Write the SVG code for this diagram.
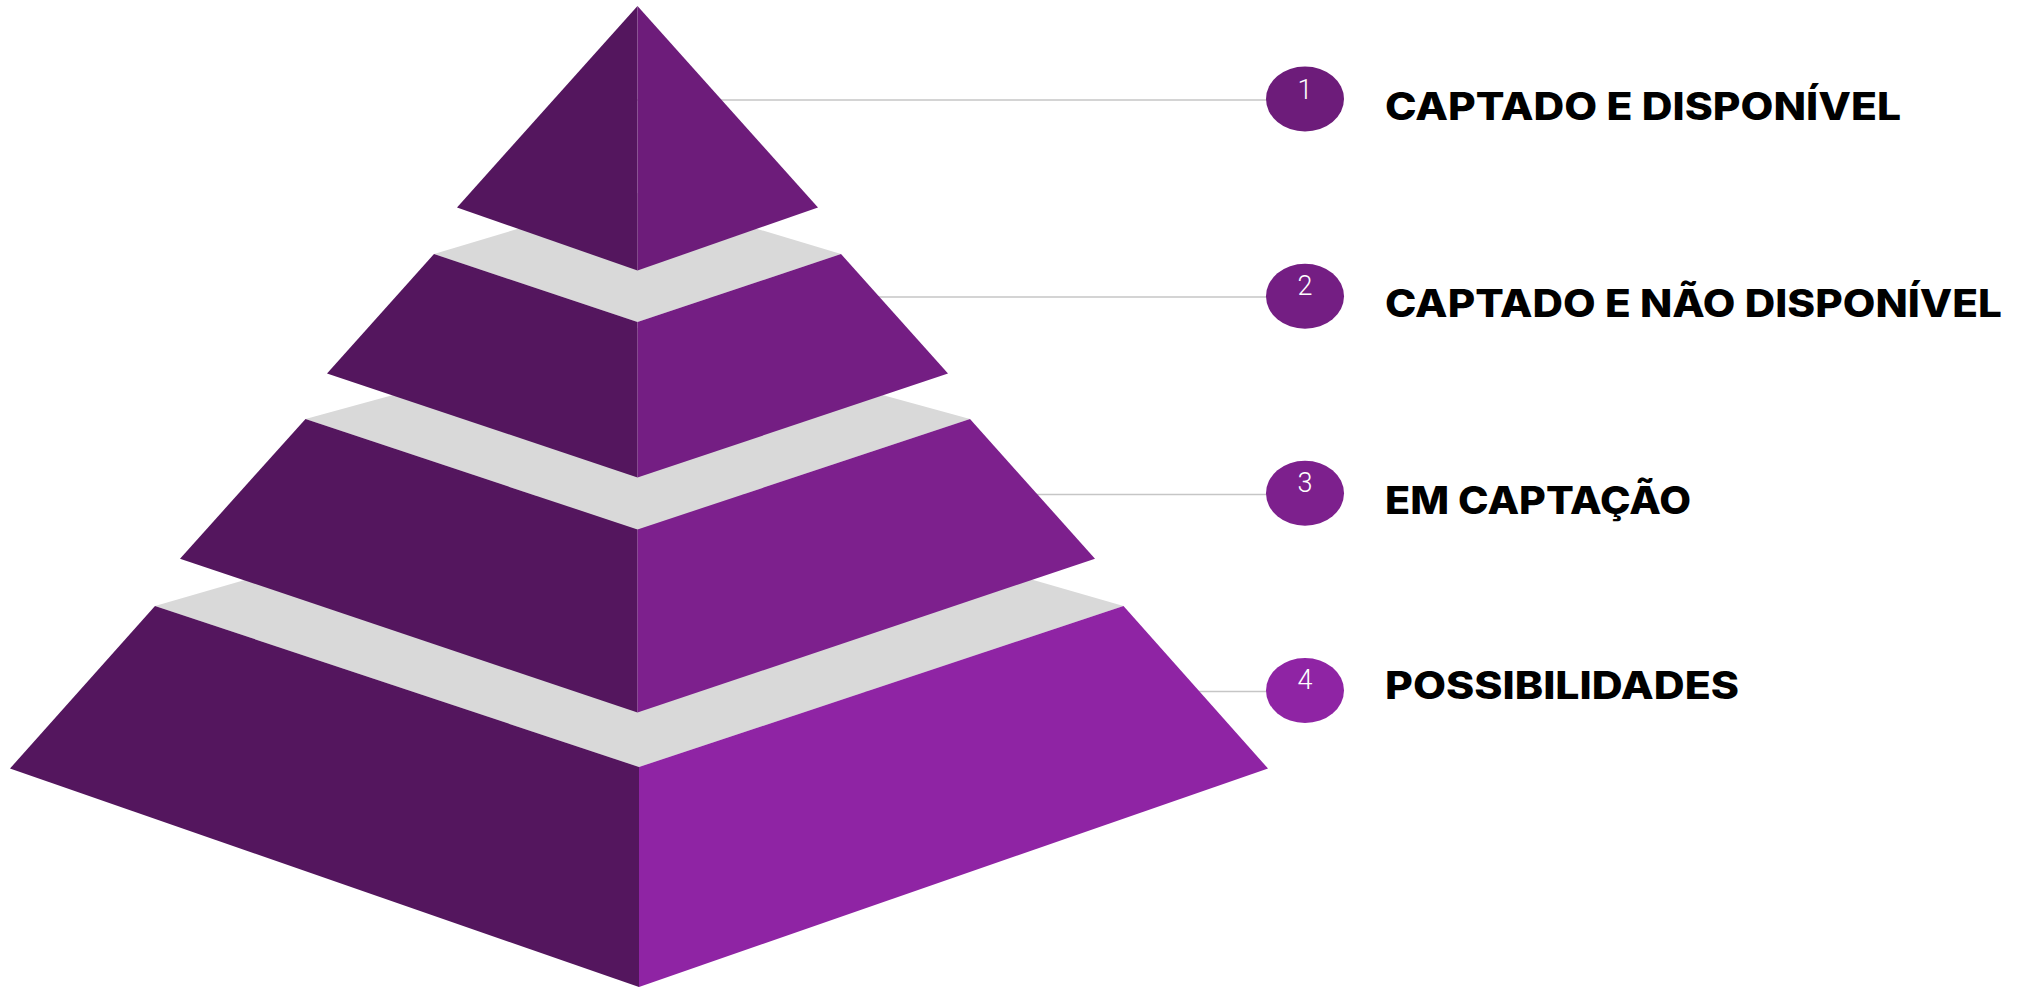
<svg xmlns="http://www.w3.org/2000/svg" width="2018" height="987" viewBox="0 0 2018 987">
<style>
.dark{fill:#54165E}
.gray{fill:#D9D9D9}
.conn{stroke:#C6C6C6;stroke-width:1.6;fill:none}
.num{font-family:Roboto,"Liberation Sans",sans-serif;font-weight:300;font-size:27px;fill:#FFFFFF;text-anchor:middle}
.lbl{font-family:Inter,"Liberation Sans",sans-serif;font-weight:800;font-size:38px;fill:#000000}
</style>
<rect width="2018" height="987" fill="#FFFFFF"/>
<g id="connectors">
<line class="conn" x1="637" y1="100" x2="1268" y2="100"/>
<line class="conn" x1="637" y1="297" x2="1268" y2="297"/>
<line class="conn" x1="637" y1="494.5" x2="1268" y2="494.5"/>
<line class="conn" x1="639" y1="691.5" x2="1268" y2="691.5"/>
</g>
<g id="faces">
<polygon class="gray" points="155,606 639,466 1123.5,606 639,767"/>
<polygon class="gray" points="305.5,419 637.5,328 970,419 637.5,529.5"/>
<polygon class="gray" points="434,254 637.5,193 841,254 637.5,322"/>
</g>
<g id="tier4">
<polygon class="dark" points="155,606 639,767 639,987 10,768.5"/>
<polygon fill="#8F24A4" points="639,767 1123.5,606 1268,768.5 639,987"/>
<ellipse cx="1305" cy="690.5" rx="39" ry="32.5" fill="#8F24A4"/>
<text class="num" x="1305" y="689">4</text>
<text class="lbl" x="1385" y="699" textLength="354" lengthAdjust="spacingAndGlyphs">POSSIBILIDADES</text>
</g>
<g id="tier3">
<polygon class="dark" points="305.5,419 637.5,529.5 637.5,712.5 180,558.7"/>
<polygon fill="#7D208D" points="637.5,529.5 970,419 1095,558.7 637.5,712.5"/>
<ellipse cx="1305" cy="493.3" rx="39" ry="32.5" fill="#7D208D"/>
<text class="num" x="1305" y="492">3</text>
<text class="lbl" x="1385" y="514" textLength="306" lengthAdjust="spacingAndGlyphs">EM CAPTAÇÃO</text>
</g>
<g id="tier2">
<polygon class="dark" points="434,254 637.5,322 637.5,477.5 327,373.5"/>
<polygon fill="#741E83" points="637.5,322 841,254 948,373.5 637.5,477.5"/>
<ellipse cx="1305" cy="296.3" rx="39" ry="32.5" fill="#741E83"/>
<text class="num" x="1305" y="295">2</text>
<text class="lbl" x="1385" y="317" textLength="617" lengthAdjust="spacingAndGlyphs">CAPTADO E NÃO DISPONÍVEL</text>
</g>
<g id="tier1">
<polygon class="dark" points="637.5,6 457,207.5 637.5,270.5"/>
<polygon fill="#6D1C7A" points="637.5,6 818,207.5 637.5,270.5"/>
<ellipse cx="1305" cy="99" rx="39" ry="32.5" fill="#6D1C7A"/>
<text class="num" x="1305" y="99">1</text>
<text class="lbl" x="1385" y="119.5" textLength="516" lengthAdjust="spacingAndGlyphs">CAPTADO E DISPONÍVEL</text>
</g>
</svg>
